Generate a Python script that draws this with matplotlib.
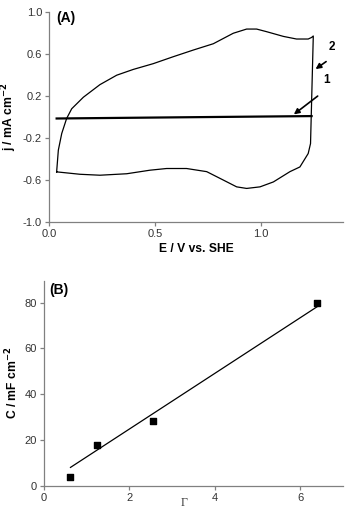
# IMPORTS
import matplotlib
matplotlib.use("Agg")
import matplotlib.pyplot as plt

# DATA
# (A) cyclic voltammogram, curve 2: anodic branch then cathodic branch
cv_e = [0.036, 0.044, 0.060, 0.083, 0.107, 0.162, 0.240, 0.319, 0.397, 0.491,
        0.585, 0.680, 0.774, 0.868, 0.931, 0.978, 1.025, 1.104, 1.166, 1.221,
        1.237, 1.245, 1.232, 1.221, 1.182, 1.135, 1.057, 0.994, 0.931, 0.884,
        0.821, 0.743, 0.648, 0.554, 0.476, 0.366, 0.240, 0.146, 0.036]
cv_j = [-0.522, -0.315, -0.156, -0.013, 0.08, 0.19, 0.31, 0.40, 0.455, 0.51,
        0.576, 0.64, 0.70, 0.80, 0.84, 0.84, 0.815, 0.77, 0.745, 0.745,
        0.76, 0.774, -0.252, -0.347, -0.475, -0.52, -0.618, -0.665, -0.68, -0.665,
        -0.60, -0.52, -0.49, -0.49, -0.506, -0.54, -0.554, -0.545, -0.522]

# (A) curve 1: nearly flat response
flat_e = [0.036, 0.6, 1.237]
flat_j = [-0.013, -0.002, 0.010]

# (B) capacitance vs roughness factor
gamma = [0.6, 1.25, 2.55, 6.4]
cap = [4.0, 18.0, 28.5, 80.0]
fit_x = [0.62, 6.4]
fit_y = [8.0, 78.3]

# STYLE
AXIS_GREY = "#808080"
TEXT_GREY = "#333333"
TICK_SIZE = 8
LABEL_SIZE = 8.7
plt.rcParams["font.family"] = ["Liberation Sans", "DejaVu Sans"]
plt.rcParams["font.size"] = TICK_SIZE


def style_axes(ax):
    for side in ("top", "right"):
        ax.spines[side].set_visible(False)
    for side in ("left", "bottom"):
        ax.spines[side].set_color(AXIS_GREY)
        ax.spines[side].set_linewidth(0.9)
    ax.tick_params(direction="out", length=3, width=0.9, color=AXIS_GREY,
                   labelcolor=TEXT_GREY, labelsize=TICK_SIZE, pad=2)


fig = plt.figure(figsize=(3.47, 5.16), dpi=100)

# PANEL A
ax_a = fig.add_axes([0.1412, 0.5698, 0.8473, 0.4064])
ax_a.plot(cv_e, cv_j, color="black", linewidth=0.9)
ax_a.plot(flat_e, flat_j, color="black", linewidth=1.6)
ax_a.set_xlim(0, 1.385)
ax_a.set_ylim(-1.0, 1.0)
ax_a.set_xticks([0.0, 0.5, 1.0], ["0.0", "0.5", "1.0"])
ax_a.set_yticks([-1.0, -0.6, -0.2, 0.2, 0.6, 1.0],
                ["-1.0", "-0.6", "-0.2", "0.2", "0.6", "1.0"])
style_axes(ax_a)
ax_a.set_xlabel("E / V vs. SHE", fontweight="bold", fontsize=LABEL_SIZE, labelpad=3)
ax_a.set_ylabel("j / mA cm$^{\\mathbf{-2}}$", fontweight="bold", fontsize=LABEL_SIZE,
                labelpad=3)
ax_a.text(0.025, 1.005, "(A)", transform=ax_a.transAxes, fontweight="bold",
          fontsize=10, va="top")

arrow = dict(arrowstyle="-|>", color="black", linewidth=1.2, mutation_scale=8)
ax_a.annotate("", xy=(1.245, 0.443), xytext=(1.316, 0.545), arrowprops=arrow)
ax_a.annotate("", xy=(1.143, 0.010), xytext=(1.276, 0.217), arrowprops=arrow)
ax_a.text(1.334, 0.672, "2", fontweight="bold", fontsize=8.5, ha="center", va="center")
ax_a.text(1.308, 0.354, "1", fontweight="bold", fontsize=8.5, ha="center", va="center")

# PANEL B
ax_b = fig.add_axes([0.1268, 0.0587, 0.8617, 0.3973])
ax_b.plot(fit_x, fit_y, color="black", linewidth=0.9)
ax_b.scatter(gamma, cap, marker="s", s=22, color="black", zorder=3)
ax_b.set_xlim(0, 7)
ax_b.set_ylim(0, 89.6)
ax_b.set_xticks([0, 2, 4, 6])
ax_b.set_yticks([0, 20, 40, 60, 80])
style_axes(ax_b)
ax_b.set_xlabel("Γ", family=["Liberation Serif", "DejaVu Serif"], fontsize=8.5,
                color=TEXT_GREY, labelpad=0)
ax_b.xaxis.set_label_coords(0.47, -0.055)
ax_b.set_ylabel("C / mF cm$^{\\mathbf{-2}}$", fontweight="bold", fontsize=LABEL_SIZE,
                labelpad=3)
ax_b.text(0.017, 0.99, "(B)", transform=ax_b.transAxes, fontweight="bold",
          fontsize=10, va="top")

fig.savefig("out.png", dpi=100)
